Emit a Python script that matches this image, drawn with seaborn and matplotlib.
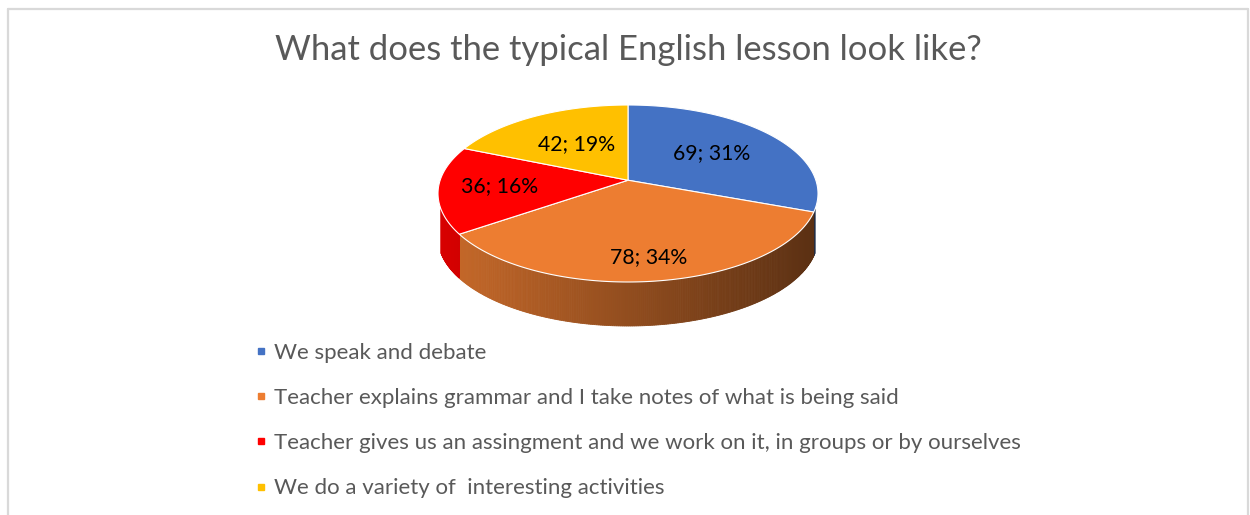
import numpy as np
import matplotlib
matplotlib.use("Agg")
import matplotlib.pyplot as plt
import seaborn as sns
from matplotlib.patches import Polygon
from matplotlib.lines import Line2D

# ---- data ----
categories = [
    "We speak and debate",
    "Teacher explains grammar and I take notes of what is being said",
    "Teacher gives us an assingment and we work on it, in groups or by ourselves",
    "We do a variety of  interesting activities",
]
counts = [69, 78, 36, 42]
pct_labels = [31, 34, 16, 19]
colors = ["#4472C4", "#ED7D31", "#FF0000", "#FFC000"]
title = "What does the typical English lesson look like?"

# ---- style ----
label_dist = [0.57, 0.79, 0.68, 0.53]   # data-label distance from apex (fraction of radius)
persp = 0.15                            # perspective strength of the 3D tilt
side_start_y = -0.18                    # screen y where the side wall silhouette begins

sns.set_theme(style="white")
plt.rcParams["font.family"] = ["Lato", "DejaVu Sans"]

W, H = 1250, 515
fig = plt.figure(figsize=(W / 100, H / 100), dpi=100)
fig.patch.set_facecolor("white")

# chart border (bottom open / cropped)
bc = "#d9d9d9"
for xs, ys in [([7.5, 7.5], [H, 8.5]), ([7.5, 1247.5], [8.5, 8.5]), ([1247.5, 1247.5], [8.5, H])]:
    fig.add_artist(Line2D([x / W for x in xs], [1 - y / H for y in ys], color=bc, lw=1.6,
                          transform=fig.transFigure))

# pie axes geometry (px)
cx, cy = 628, 193.5      # ellipse centre (from top)
sx, sy = 190, 88.5       # semi axes in px
depth = 44 / sy
xlim = (-1.1, 1.1)
ylim = (-1.8, 1.1)
left = cx + xlim[0] * sx
bottom = (H - cy) + ylim[0] * sy
ax = fig.add_axes([left / W, bottom / H, (xlim[1] - xlim[0]) * sx / W, (ylim[1] - ylim[0]) * sy / H])
ax.set_xlim(*xlim)
ax.set_ylim(*ylim)
ax.axis("off")

k = persp
s = np.sqrt(1 - k * k)


def project(u, v):
    """disk coords (u right, v back) -> screen ellipse coords with perspective"""
    d = 1 + k * v
    return s * u / d, (v + k) / d


v_thresh = (side_start_y - k) / (1 - k * side_start_y)

# slice angles (clockwise from 12 o'clock)
fr = np.array(counts, dtype=float) / np.sum(counts)
ends = 90 - 360 * np.cumsum(fr)
starts = np.concatenate([[90], ends[:-1]])

# 3D side walls (front part), shaded left->right
for t_start, t_end, c in zip(starts, ends, colors):
    angs = np.linspace(t_end, t_start, 240)
    base = np.array(matplotlib.colors.to_rgb(c))
    for a, b in zip(angs[:-1], angs[1:]):
        m = np.deg2rad((a + b) / 2)
        if np.sin(m) >= v_thresh:
            continue
        ra, rb = np.deg2rad(a), np.deg2rad(b)
        xa, ya = project(np.cos(ra), np.sin(ra))
        xb, yb = project(np.cos(rb), np.sin(rb))
        xm = (xa + xb) / 2
        f = 0.85 - (xm + 1) / 2 * 0.47
        col = np.clip(base * f, 0, 1)
        ax.add_patch(Polygon([(xa, ya), (xb, yb), (xb, yb - depth), (xa, ya - depth)],
                             closed=True, facecolor=col, edgecolor=col, lw=0.6, zorder=1))

# top faces
for t_start, t_end, c in zip(starts, ends, colors):
    angs = np.deg2rad(np.linspace(t_start, t_end, 200))
    pts = [project(0, 0)] + [project(np.cos(a), np.sin(a)) for a in angs]
    ax.add_patch(Polygon(pts, closed=True, facecolor=c, edgecolor="white", lw=0.8, zorder=2))

# data labels
for t_start, t_end, n, p, r in zip(starts, ends, counts, pct_labels, label_dist):
    m = np.deg2rad((t_start + t_end) / 2)
    lx, ly = project(r * np.cos(m), r * np.sin(m))
    ax.text(lx, ly, f"{n}; {p}%", ha="center", va="center",
            fontsize=15.3, color="black", zorder=5)

# title
fig.text(628 / W, 1 - 50 / H, title, ha="center", va="center", fontsize=24.9,
         color="#595959")

# legend
handles = [Line2D([], [], marker="s", linestyle="", color=c, markersize=5) for c in colors]
fig.legend(handles, categories, loc="upper left", bbox_to_anchor=(252 / W, 1 - 343 / H),
           frameon=False, fontsize=16, labelcolor="#595959", handletextpad=0.2,
           labelspacing=1.13, handlelength=0.8, borderpad=0, borderaxespad=0)

fig.savefig("out.png", dpi=100, facecolor="white")
